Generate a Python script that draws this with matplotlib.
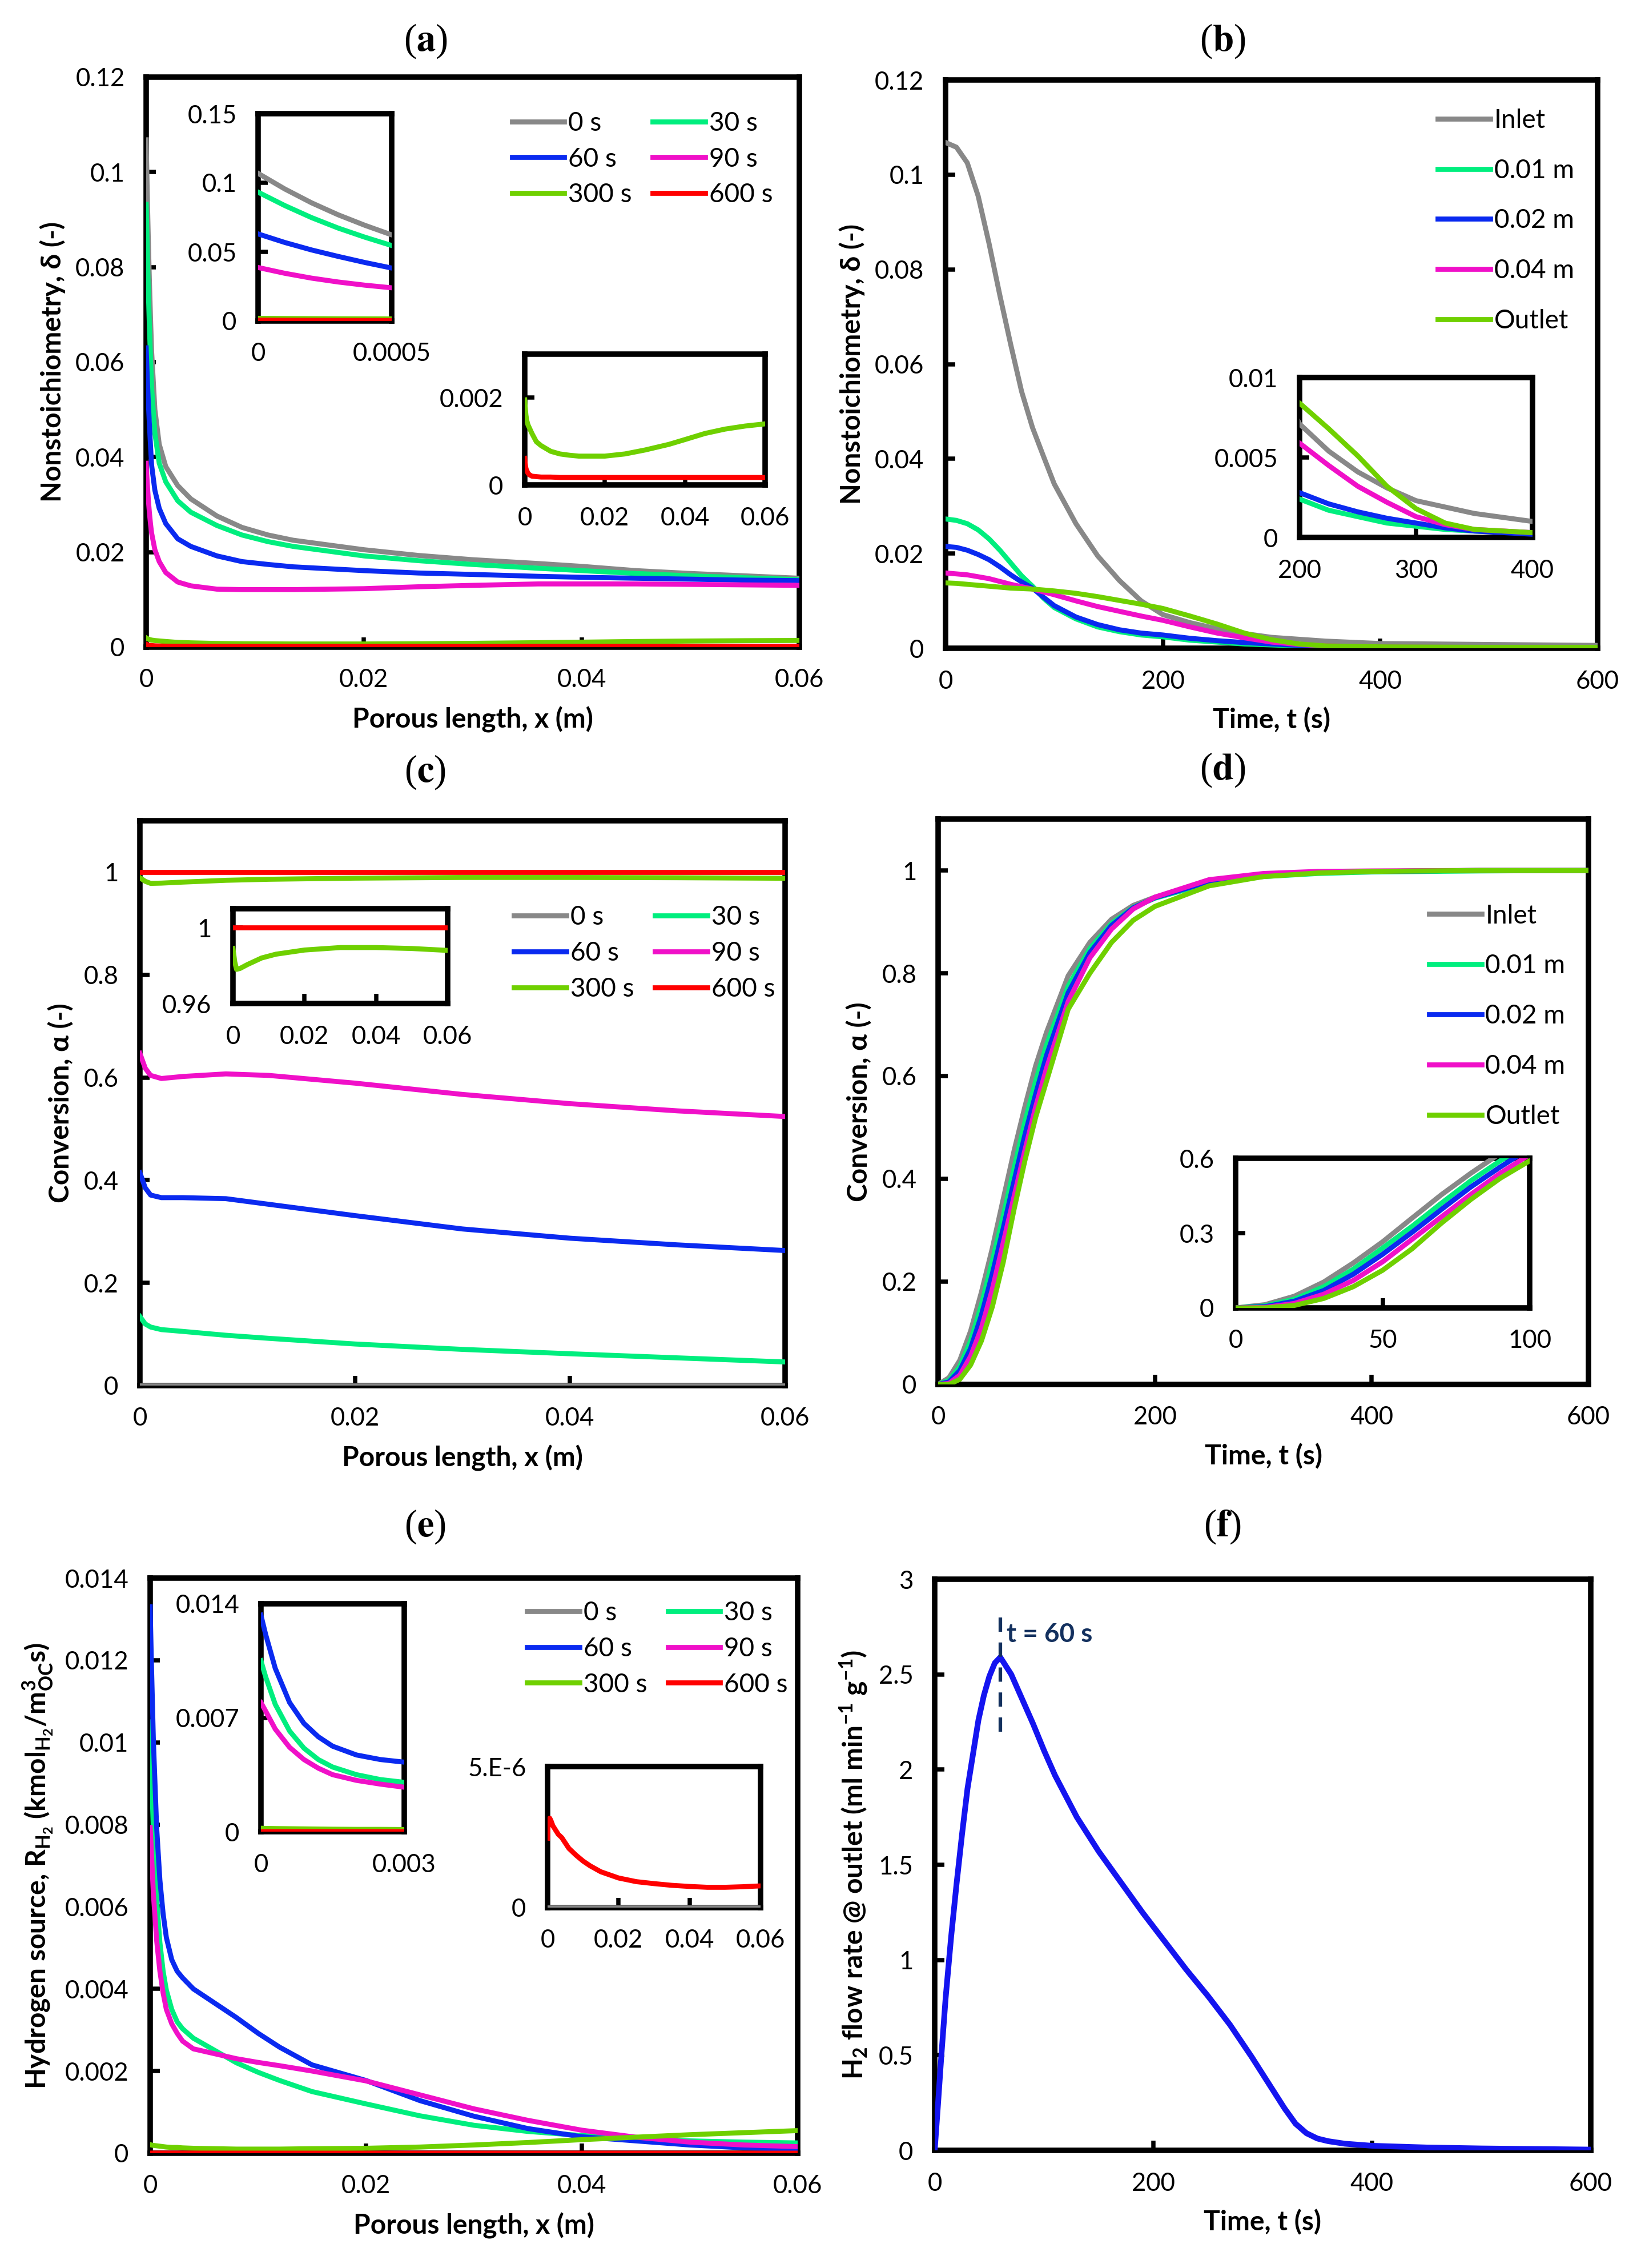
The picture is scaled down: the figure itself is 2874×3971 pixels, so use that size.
import numpy as np
import matplotlib
matplotlib.use("Agg")
import matplotlib.pyplot as plt
from matplotlib.ticker import FuncFormatter

plt.rcParams['font.family'] = ['Lato', 'DejaVu Sans']
plt.rcParams['mathtext.fontset'] = 'custom'
plt.rcParams['mathtext.rm'] = 'Lato'
plt.rcParams['mathtext.default'] = 'regular'

# ---------------- data ----------------
time_labels = ['0 s', '30 s', '60 s', '90 s', '300 s', '600 s']
time_colors = ['#888888', '#00EE7E', '#0A2AF0', '#F010C8', '#6FD000', '#FF0000']
pos_labels = ['Inlet', '0.01 m', '0.02 m', '0.04 m', 'Outlet']
pos_colors = ['#888888', '#00EE7E', '#0A2AF0', '#F010C8', '#6FD000']

# (a) nonstoichiometry along the porous length
x_a = [0, 0.0001, 0.0002, 0.0003, 0.0004, 0.0005, 0.0008, 0.0012, 0.0018, 0.0029, 0.0041, 0.0065,
       0.0088, 0.0112, 0.0135, 0.02, 0.025, 0.03, 0.036, 0.04, 0.045, 0.05, 0.055, 0.06]
delta_0s = [0.1068, 0.0955, 0.0855, 0.0768, 0.0692, 0.0623, 0.050, 0.0427, 0.038, 0.034, 0.0312,
            0.0276, 0.0252, 0.0236, 0.0225, 0.0205, 0.0193, 0.0184, 0.0176, 0.017, 0.0161, 0.0155,
            0.015, 0.0145]
delta_30s = [0.0932, 0.0835, 0.0748, 0.0672, 0.0606, 0.0546, 0.0450, 0.0387, 0.0348, 0.0308, 0.0284,
             0.0256, 0.0236, 0.0222, 0.0212, 0.0192, 0.0182, 0.0174, 0.0166, 0.0161, 0.0155, 0.015,
             0.0146, 0.0142]
delta_60s = [0.063, 0.0568, 0.0514, 0.0467, 0.0423, 0.0383, 0.033, 0.0292, 0.026, 0.0228, 0.0212,
             0.0192, 0.018, 0.0174, 0.0169, 0.0161, 0.0156, 0.0153, 0.0149, 0.0147, 0.0145, 0.0143,
             0.0141, 0.014]
delta_90s = [0.0387, 0.0345, 0.031, 0.0282, 0.0259, 0.024, 0.0205, 0.018, 0.0157, 0.0137, 0.0129,
             0.0122, 0.0121, 0.0121, 0.0121, 0.0123, 0.0127, 0.013, 0.0133, 0.0133, 0.0133, 0.0132,
             0.0131, 0.013]
delta_300s = [0.00195, 0.0018, 0.0017, 0.0016, 0.00154, 0.00148, 0.00138, 0.0013, 0.00118, 0.00099,
              0.0009, 0.00077, 0.00071, 0.00068, 0.00066, 0.00066, 0.00071, 0.0008, 0.00093,
              0.00104, 0.00118, 0.00128, 0.00135, 0.0014]
delta_600s = [0.00061, 0.0005, 0.00043, 0.00038, 0.00035, 0.00033, 0.00027, 0.00023, 0.0002, 0.00019,
              0.00018, 0.00018, 0.00017, 0.00017, 0.00017, 0.00017, 0.00017, 0.00017, 0.00017,
              0.00017, 0.00017, 0.00017, 0.00017, 0.00017]

# (b) nonstoichiometry versus time
t_b = [0, 10, 20, 30, 40, 50, 60, 70, 80, 90, 100, 120, 140, 160, 180, 200, 225, 250, 275, 300,
       325, 350, 400, 500, 600]
delta_inlet = [0.1068, 0.1058, 0.1025, 0.0955, 0.0855, 0.0745, 0.0641, 0.0542, 0.0466, 0.0406, 0.0347,
               0.0263, 0.0195, 0.0143, 0.0100, 0.0071, 0.0054, 0.0041, 0.0031, 0.0023, 0.0019,
               0.0015, 0.0010, 0.0008, 0.0006]
delta_001 = [0.0273, 0.0270, 0.0263, 0.0250, 0.0231, 0.0207, 0.0180, 0.0153, 0.0131, 0.0106, 0.0086,
             0.0062, 0.0045, 0.0035, 0.0028, 0.0024, 0.0017, 0.0013, 0.0009, 0.0007, 0.0005,
             0.0004, 0.0003, 0.0002, 0.0002]
delta_002 = [0.0215, 0.0213, 0.0207, 0.0198, 0.0187, 0.0172, 0.0155, 0.0140, 0.0127, 0.0108, 0.0090,
             0.0066, 0.0050, 0.0039, 0.0032, 0.0028, 0.0021, 0.0016, 0.0012, 0.0009, 0.0006,
             0.0004, 0.0002, 0.0001, 0.0001]
delta_004 = [0.0159, 0.0157, 0.0155, 0.0151, 0.0147, 0.0141, 0.0135, 0.0130, 0.0125, 0.0119, 0.0113,
             0.0100, 0.0088, 0.0078, 0.0068, 0.0059, 0.0045, 0.0032, 0.0022, 0.0013, 0.0008,
             0.0005, 0.0003, 0.0002, 0.0002]
delta_outlet = [0.0138, 0.0137, 0.0135, 0.0133, 0.0131, 0.0129, 0.0127, 0.0126, 0.0125, 0.0123,
                0.0121, 0.0116, 0.0109, 0.0101, 0.0093, 0.0084, 0.0068, 0.0051, 0.0032, 0.0018,
                0.0009, 0.0005, 0.0003, 0.0002, 0.0002]

# (c) conversion along the porous length
x_c = [0, 0.0005, 0.001, 0.002, 0.004, 0.008, 0.012, 0.02, 0.03, 0.04, 0.05, 0.06]
conv_0s = [0, 0, 0, 0, 0, 0, 0, 0, 0, 0, 0, 0]
conv_30s = [0.1345, 0.12, 0.114, 0.109, 0.1055, 0.098, 0.092, 0.081, 0.0705, 0.062, 0.054, 0.046]
conv_60s = [0.4145, 0.385, 0.371, 0.366, 0.366, 0.364, 0.353, 0.331, 0.305, 0.287, 0.274, 0.263]
conv_90s = [0.647, 0.618, 0.604, 0.598, 0.602, 0.607, 0.604, 0.589, 0.567, 0.549, 0.535, 0.524]
conv_300s = [0.989, 0.982, 0.978, 0.9785, 0.9805, 0.984, 0.986, 0.9882, 0.9895, 0.9895, 0.989, 0.988]
conv_600s = [1.0, 1.0, 1.0, 1.0, 1.0, 1.0, 1.0, 1.0, 1.0, 1.0, 1.0, 1.0]

# (d) conversion versus time
t_d = [0, 10, 20, 30, 40, 50, 60, 70, 80, 90, 100, 120, 140, 160, 180, 200, 250, 300, 350, 400,
       500, 600]
conv_inlet = [0, 0.013, 0.047, 0.104, 0.18, 0.265, 0.36, 0.454, 0.54, 0.62, 0.685, 0.795, 0.86,
              0.905, 0.932, 0.948, 0.977, 0.99, 0.996, 0.998, 1.0, 1.0]
conv_001 = [0, 0.008, 0.035, 0.085, 0.155, 0.24, 0.327, 0.42, 0.51, 0.59, 0.66, 0.775, 0.848, 0.897,
            0.928, 0.946, 0.975, 0.988, 0.994, 0.997, 0.999, 1.0]
conv_002 = [0, 0.005, 0.027, 0.07, 0.135, 0.215, 0.303, 0.395, 0.485, 0.565, 0.64, 0.762, 0.84,
            0.893, 0.927, 0.947, 0.978, 0.991, 0.996, 0.998, 1.0, 1.0]
conv_004 = [0, 0.002, 0.018, 0.055, 0.11, 0.185, 0.275, 0.365, 0.455, 0.54, 0.615, 0.745, 0.83,
            0.886, 0.925, 0.948, 0.982, 0.994, 0.998, 0.999, 1.0, 1.0]
conv_outlet = [0, 0.0, 0.01, 0.038, 0.085, 0.151, 0.237, 0.34, 0.435, 0.52, 0.59, 0.73, 0.80,
               0.86, 0.903, 0.93, 0.97, 0.988, 0.995, 0.998, 1.0, 1.0]

# (e) hydrogen source along the porous length
x_e = [0, 0.0001, 0.0003, 0.0006, 0.0009, 0.0012, 0.0015, 0.002, 0.0025, 0.003, 0.004, 0.006,
       0.008, 0.01, 0.012, 0.015, 0.02, 0.025, 0.03, 0.035, 0.04, 0.045, 0.05, 0.055, 0.06]
rh2_0s = [0] * 25
rh2_30s = [0.0105, 0.0095, 0.00782, 0.00618, 0.00513, 0.00443, 0.00397, 0.0035, 0.0032, 0.00303,
           0.0028, 0.0025, 0.0022, 0.00197, 0.00177, 0.0015, 0.0012, 0.00091, 0.00068, 0.00053,
           0.00043, 0.00036, 0.0003, 0.00027, 0.00025]
rh2_60s = [0.0133, 0.0121, 0.01003, 0.00793, 0.00665, 0.00583, 0.00525, 0.00471, 0.00443, 0.00427,
           0.0040, 0.00365, 0.0033, 0.00292, 0.00258, 0.00215, 0.00177, 0.00128, 0.0009, 0.0006,
           0.0004, 0.0003, 0.0002, 0.00013, 0.0001]
rh2_90s = [0.00793, 0.0074, 0.0063, 0.00518, 0.00443, 0.0039, 0.0035, 0.00315, 0.00292, 0.00273,
           0.00254, 0.00242, 0.0023, 0.00221, 0.00213, 0.002, 0.00176, 0.00142, 0.00108, 0.0008,
           0.00056, 0.00039, 0.00027, 0.0002, 0.00016]
rh2_300s = [0.00021, 0.0002, 0.00019, 0.00018, 0.00017, 0.00016, 0.00015, 0.00014, 0.00014, 0.00013,
            0.00012, 0.00011, 0.0001, 0.0001, 0.0001, 0.00011, 0.00012, 0.00015, 0.0002, 0.00026,
            0.00033, 0.00039, 0.00045, 0.0005, 0.00055]
rh2_600s = [2.46e-6, 2.8e-6, 3.1e-6, 3.17e-6, 3.1e-6, 3.0e-6, 2.9e-6, 2.8e-6, 2.7e-6, 2.6e-6,
            2.48e-6, 2.1e-6, 1.86e-6, 1.65e-6, 1.48e-6, 1.27e-6, 1.05e-6, 0.92e-6, 0.85e-6, 0.79e-6,
            0.75e-6, 0.72e-6, 0.72e-6, 0.74e-6, 0.77e-6]

# (f) H2 flow rate at the outlet
t_f = [0, 3, 6, 10, 15, 20, 25, 30, 35, 40, 45, 50, 55, 60, 70, 80, 90, 100, 110, 130, 150, 170,
       190, 210, 230, 250, 270, 290, 300, 310, 320, 330, 340, 350, 360, 375, 400, 450, 500, 600]
h2_flow = [0, 0.24, 0.49, 0.8, 1.12, 1.4, 1.66, 1.9, 2.08, 2.26, 2.39, 2.49, 2.56, 2.59, 2.5, 2.37,
           2.24, 2.1, 1.97, 1.75, 1.57, 1.41, 1.25, 1.1, 0.95, 0.81, 0.66, 0.49, 0.4, 0.31, 0.22,
           0.14, 0.09, 0.062, 0.048, 0.035, 0.024, 0.015, 0.01, 0.004]
peak_time = 60
peak_dash = [2.2, 2.82]

# ---------------- figure ----------------
W, H = 2874, 3971
fig = plt.figure(figsize=(W / 300, H / 300), dpi=300)
LW = 2.1


def box(l, t, r, b):
    return [l / W, 1 - b / H, (r - l) / W, (b - t) / H]


def fmt(v, pos):
    return f'{v:g}'


def setup(ax, xlim, ylim, xt, yt):
    ax.set_xlim(*xlim)
    ax.set_ylim(*ylim)
    ax.set_xticks(xt)
    ax.set_yticks(yt)
    ax.xaxis.set_major_formatter(FuncFormatter(fmt))
    ax.yaxis.set_major_formatter(FuncFormatter(fmt))
    ax.tick_params(direction='in', length=4, width=1.8, labelsize=10.5, pad=9)
    for s in ax.spines.values():
        s.set_linewidth(2.3)


def title(x, y, letter):
    fig.text(x / W, 1 - y / H, '($\\mathbf{%s}$)' % letter, ha='center', va='center',
             fontsize=16, family='Liberation Serif', math_fontfamily='stix')


def draw(ax, x, series, colors, labels=None):
    lines = []
    for i, (ys, c) in enumerate(zip(series, colors)):
        lab = labels[i] if labels else None
        ln, = ax.plot(x, ys, color=c, lw=LW, label=lab, zorder=3)
        lines.append(ln)
    return lines


def legend6(ax, lines, left, top):
    order = [0, 2, 4, 1, 3, 5]
    ax.legend([lines[i] for i in order], [time_labels[i] for i in order], ncol=2,
              loc='upper left', bbox_to_anchor=(left, top), frameon=False, fontsize=11,
              handlelength=2.0, handletextpad=0.15, columnspacing=0.8, labelspacing=0.45,
              borderpad=0, borderaxespad=0)


def legend5(ax, lines, left, top):
    ax.legend(lines, pos_labels, ncol=1, loc='upper left', bbox_to_anchor=(left, top),
              frameon=False, fontsize=11, handlelength=2.0, handletextpad=0.15,
              labelspacing=1.0, borderpad=0, borderaxespad=0)


def labels(ax, xl, yl):
    ax.set_xlabel(xl, fontsize=11.5, fontweight='bold', labelpad=6)
    ax.set_ylabel(yl, fontsize=11.5, fontweight='bold', labelpad=4)


# (a)
delta_a = [delta_0s, delta_30s, delta_60s, delta_90s, delta_300s, delta_600s]
ax = fig.add_axes(box(256, 135, 1400, 1133))
lines = draw(ax, x_a, delta_a, time_colors, time_labels)
setup(ax, (0, 0.06), (0, 0.12), [0, 0.02, 0.04, 0.06], np.arange(0, 0.121, 0.02))
labels(ax, 'Porous length, x (m)', 'Nonstoichiometry, δ (-)')
legend6(ax, lines, 0.56, 0.94)
title(745, 72, 'a')
ins = fig.add_axes(box(452, 199, 686, 562))
draw(ins, x_a, delta_a, time_colors)
setup(ins, (0, 0.0005), (0, 0.15), [0, 0.0005], [0, 0.05, 0.1, 0.15])
ins = fig.add_axes(box(919, 620, 1340, 849))
draw(ins, x_a, delta_a[4:], time_colors[4:])
setup(ins, (0, 0.06), (0, 0.003), [0, 0.02, 0.04, 0.06], [0, 0.002])

# (b)
delta_b = [delta_inlet, delta_001, delta_002, delta_004, delta_outlet]
ax = fig.add_axes(box(1656, 140, 2798, 1135))
lines = draw(ax, t_b, delta_b, pos_colors)
setup(ax, (0, 600), (0, 0.12), [0, 200, 400, 600], np.arange(0, 0.121, 0.02))
labels(ax, 'Time, t (s)', 'Nonstoichiometry, δ (-)')
legend5(ax, lines, 0.755, 0.95)
title(2141, 72, 'b')
ins = fig.add_axes(box(2276, 661, 2684, 941))
draw(ins, t_b, delta_b, pos_colors)
setup(ins, (200, 400), (0, 0.01), [200, 300, 400], [0, 0.005, 0.01])

# (c)
conv_c = [conv_0s, conv_30s, conv_60s, conv_90s, conv_300s, conv_600s]
ax = fig.add_axes(box(245, 1437, 1375, 2426))
lines = draw(ax, x_c, conv_c, time_colors, time_labels)
setup(ax, (0, 0.06), (0, 1.1), [0, 0.02, 0.04, 0.06], np.arange(0, 1.01, 0.2))
labels(ax, 'Porous length, x (m)', 'Conversion, α (-)')
legend6(ax, lines, 0.58, 0.85)
title(745, 1352, 'c')
ins = fig.add_axes(box(408, 1591, 784, 1757))
draw(ins, x_c, conv_c[4:], time_colors[4:])
setup(ins, (0, 0.06), (0.96, 1.01), [0, 0.02, 0.04, 0.06], [0.96, 1.0])

# (d)
conv_d = [conv_inlet, conv_001, conv_002, conv_004, conv_outlet]
ax = fig.add_axes(box(1643, 1434, 2782, 2424))
lines = draw(ax, t_d, conv_d, pos_colors)
setup(ax, (0, 600), (0, 1.1), [0, 200, 400, 600], np.arange(0, 1.01, 0.2))
labels(ax, 'Time, t (s)', 'Conversion, α (-)')
legend5(ax, lines, 0.755, 0.85)
title(2141, 1348, 'd')
ins = fig.add_axes(box(2164, 2028, 2679, 2290))
draw(ins, t_d, conv_d, pos_colors)
setup(ins, (0, 100), (0, 0.6), [0, 50, 100], [0, 0.3, 0.6])

# (e)
rh2_e = [rh2_0s, rh2_30s, rh2_60s, rh2_90s, rh2_300s, rh2_600s]
ax = fig.add_axes(box(263, 2763, 1397, 3770))
lines = draw(ax, x_e, rh2_e, time_colors, time_labels)
setup(ax, (0, 0.06), (0, 0.014), [0, 0.02, 0.04, 0.06], np.arange(0, 0.0141, 0.002))
labels(ax, 'Porous length, x (m)',
       'Hydrogen source, R$_{H_2}$ (kmol$_{H_2}$/m$^3_{OC}$s)')
legend6(ax, lines, 0.582, 0.96)
title(745, 2673, 'e')
ins = fig.add_axes(box(457, 2808, 708, 3207))
draw(ins, x_e, rh2_e, time_colors)
setup(ins, (0, 0.003), (0, 0.014), [0, 0.003], [0, 0.007, 0.014])
ins = fig.add_axes(box(959, 3093, 1332, 3340))
draw(ins, x_e, [rh2_0s, rh2_600s], [time_colors[0], time_colors[5]])
setup(ins, (0, 0.06), (0, 5e-6), [0, 0.02, 0.04, 0.06], [0, 5e-6])
ins.set_yticklabels(['0', '5.E-6'])

# (f)
navy = '#13305E'
ax = fig.add_axes(box(1637, 2765, 2786, 3765))
ax.plot(t_f, h2_flow, color='#1414F0', lw=2.4, zorder=3)
ax.plot([peak_time, peak_time], peak_dash, color=navy, lw=1.5, ls=(0, (4, 3)), zorder=4)
ax.text(peak_time + 6, 2.71, f't = {peak_time} s', color=navy, fontsize=11,
        fontweight='bold', va='center', ha='left')
setup(ax, (0, 600), (0, 3), [0, 200, 400, 600], np.arange(0, 3.01, 0.5))
labels(ax, 'Time, t (s)', 'H$_2$ flow rate @ outlet (ml min$^{-1}$ g$^{-1}$)')
title(2141, 2673, 'f')

fig.savefig('out.png', dpi=300, facecolor='white')
